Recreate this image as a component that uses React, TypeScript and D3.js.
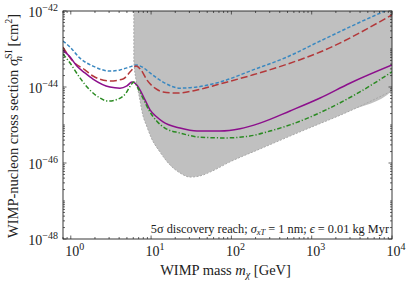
import React, { useRef, useEffect } from "react";
import * as d3 from "d3";

type Pt = [number, number];

// [mass GeV, log10 sigma cm^2]
const blueLine: Pt[] = [
  [0.8, -42.79], [0.98, -42.95], [1.3, -43.24], [1.89, -43.45], [3.07, -43.58],
  [4.1, -43.55], [5.46, -43.47], [6.5, -43.42], [7.7, -43.47], [9.7, -43.63],
  [14.1, -43.87], [22.9, -44.03], [37.3, -44.0], [72, -43.87], [186, -43.55],
  [494, -43.21], [1274, -42.79], [8170, -42.0], [10000, -41.92],
];
const redLine: Pt[] = [
  [0.8, -42.95], [1.06, -43.32], [1.5, -43.55], [1.89, -43.71], [3.07, -43.84],
  [4.47, -43.79], [5.6, -43.58], [6.5, -43.45], [7.5, -43.55], [8.9, -43.82],
  [11.2, -44.03], [14.1, -44.13], [21, -44.16], [37.3, -44.08], [72, -43.92],
  [186, -43.68], [494, -43.4], [1274, -43.08], [10000, -42.1],
];
const purpleLine: Pt[] = [
  [0.8, -43.03], [0.98, -43.21], [1.19, -43.45], [1.5, -43.63], [1.89, -43.79],
  [3.07, -44.0], [4.1, -44.03], [5.0, -43.97], [5.78, -43.87], [6.3, -43.9],
  [7.3, -44.08], [8.4, -44.34], [9.7, -44.6], [11.8, -44.79], [14.1, -44.92],
  [22.9, -45.08], [37.3, -45.16], [72, -45.16], [128, -45.1], [227, -44.95],
  [537, -44.63], [1274, -44.29], [2986, -43.9], [10000, -43.42],
];
const greenLine: Pt[] = [
  [0.8, -43.13], [0.98, -43.37], [1.3, -43.76], [1.73, -44.08], [2.31, -44.29],
  [2.9, -44.37], [3.87, -44.32], [4.87, -44.16], [5.6, -43.95], [6.1, -43.87],
  [6.87, -44.03], [7.9, -44.29], [9.7, -44.66], [11.8, -44.9], [14.9, -45.08],
  [22.9, -45.21], [40.6, -45.32], [83, -45.34], [170, -45.29], [302, -45.16],
  [715, -44.9], [1690, -44.55], [3980, -44.13], [10000, -43.6],
];
const regionEdge: Pt[] = [
  [6.1, -42.0], [6.1, -43.29], [6.5, -43.82], [7.07, -44.21], [7.9, -44.74],
  [8.9, -45.05], [9.97, -45.32], [12.9, -45.71], [17.2, -46.05], [22.9, -46.26],
  [30.5, -46.37], [40.6, -46.34], [54, -46.24], [96, -45.97], [227, -45.63],
  [715, -45.18], [2986, -44.63], [10000, -44.1],
];

const xMajor = [0, 1, 2, 3, 4];
const yMajor = [-42, -44, -46, -48];
const note = "5σ discovery reach; ";

const W = 407;
const H = 284;
const margin = { top: 11, right: 15, bottom: 45, left: 63 };

const App: React.FC = () => {
  const svgRef = useRef<SVGSVGElement>(null);

  useEffect(() => {
    const svg = d3.select(svgRef.current);
    svg.selectAll("*").remove();
    const width = W - margin.left - margin.right;
    const height = H - margin.top - margin.bottom;

    const x = d3.scaleLog().domain([0.8, 1e4]).range([0, width]);
    const y = d3.scaleLog().domain([1e-48, 1e-42]).range([height, 0]);

    const g = svg.append("g").attr("transform", `translate(${margin.left},${margin.top})`);

    g.append("defs").append("clipPath").attr("id", "plotclip")
      .append("rect").attr("width", width).attr("height", height);

    const line = d3.line<Pt>()
      .curve(d3.curveMonotoneX)
      .x(d => x(d[0]))
      .y(d => y(Math.pow(10, d[1])));

    // shaded region
    const poly: Pt[] = [...regionEdge, [10000, -42.0]];
    g.append("path")
      .datum(poly)
      .attr("clip-path", "url(#plotclip)")
      .attr("fill", "#c0c0c0")
      .attr("stroke", "none")
      .attr("d", line);
    g.append("path")
      .datum(regionEdge)
      .attr("clip-path", "url(#plotclip)")
      .attr("fill", "none")
      .attr("stroke", "#a8a8a8")
      .attr("stroke-width", 1)
      .attr("stroke-dasharray", "2,1.5")
      .attr("d", line);

    const series = [
      { data: blueLine, color: "#3a88c0", dash: "3.5,2" },
      { data: redLine, color: "#b3383a", dash: "7,3" },
      { data: purpleLine, color: "#8c0f8c", dash: null },
      { data: greenLine, color: "#2a8a22", dash: "4.5,2,1.2,2" },
    ];
    series.forEach(s => {
      g.append("path")
        .datum(s.data)
        .attr("clip-path", "url(#plotclip)")
        .attr("fill", "none")
        .attr("stroke", s.color)
        .attr("stroke-width", 1.5)
        .attr("stroke-dasharray", s.dash)
        .attr("d", line);
    });

    // frame
    g.append("rect").attr("width", width).attr("height", height)
      .attr("fill", "none").attr("stroke", "#222").attr("stroke-width", 0.9);

    // ticks, inward on all sides
    const tickG = g.append("g").attr("stroke", "#222").attr("stroke-width", 0.7);
    const xMinor: number[] = [];
    for (let e = -1; e < 4; e++) for (let k = 2; k <= 9; k++) {
      const v = k * Math.pow(10, e);
      if (v >= 0.8 && v <= 1e4) xMinor.push(v);
    }
    xMinor.forEach(v => {
      tickG.append("line").attr("x1", x(v)).attr("x2", x(v)).attr("y1", height).attr("y2", height - 2);
      tickG.append("line").attr("x1", x(v)).attr("x2", x(v)).attr("y1", 0).attr("y2", 2);
    });
    xMajor.forEach(e => {
      const v = Math.pow(10, e);
      tickG.append("line").attr("x1", x(v)).attr("x2", x(v)).attr("y1", height).attr("y2", height - 3.5);
      tickG.append("line").attr("x1", x(v)).attr("x2", x(v)).attr("y1", 0).attr("y2", 3.5);
    });
    const yMinor: number[] = [];
    for (let e = -48; e < -42; e++) for (let k = 1; k <= 9; k++) {
      if (k === 1 && e % 2 === 0) continue;
      yMinor.push(k * Math.pow(10, e));
    }
    yMinor.forEach(v => {
      tickG.append("line").attr("x1", 0).attr("x2", 2).attr("y1", y(v)).attr("y2", y(v));
      tickG.append("line").attr("x1", width).attr("x2", width - 2).attr("y1", y(v)).attr("y2", y(v));
    });
    yMajor.forEach(e => {
      const v = Math.pow(10, e);
      tickG.append("line").attr("x1", 0).attr("x2", 3.5).attr("y1", y(v)).attr("y2", y(v));
      tickG.append("line").attr("x1", width).attr("x2", width - 3.5).attr("y1", y(v)).attr("y2", y(v));
    });

    const font = "'Liberation Serif', 'DejaVu Serif', serif";

    xMajor.forEach(e => {
      const t = g.append("text")
        .attr("x", x(Math.pow(10, e)) + 4)
        .attr("y", height + 17)
        .attr("text-anchor", "middle")
        .attr("font-family", font)
        .attr("font-size", 14)
        .attr("fill", "#222");
      t.append("tspan").text("10");
      t.append("tspan").attr("dy", -6).attr("font-size", 10).text(String(e));
    });

    yMajor.forEach(e => {
      const t = g.append("text")
        .attr("x", -5)
        .attr("y", y(Math.pow(10, e)) + 6)
        .attr("text-anchor", "end")
        .attr("font-family", font)
        .attr("font-size", 14)
        .attr("fill", "#222");
      t.append("tspan").text("10");
      t.append("tspan").attr("dy", -6).attr("font-size", 10).text("\u2212" + Math.abs(e));
    });

    // x label
    const xl = svg.append("text")
      .attr("x", margin.left + width / 2 - 2)
      .attr("y", 275)
      .attr("text-anchor", "middle")
      .attr("font-family", font)
      .attr("font-size", 14.5)
      .attr("fill", "#222");
    xl.append("tspan").text("WIMP mass ");
    xl.append("tspan").attr("font-style", "italic").text("m");
    xl.append("tspan").attr("font-style", "italic").attr("font-size", 10).attr("dy", 3).text("χ");
    xl.append("tspan").attr("dy", -3).text(" [GeV]");

    // y label
    const yl = svg.append("text")
      .attr("transform", `translate(18,${margin.top + height / 2 + 1}) rotate(-90)`)
      .attr("text-anchor", "middle")
      .attr("font-family", font)
      .attr("font-size", 14.5)
      .attr("fill", "#222");
    yl.append("tspan").text("WIMP-nucleon cross section ");
    yl.append("tspan").attr("font-style", "italic").text("σ");
    yl.append("tspan").attr("font-size", 10).attr("dy", -6).text("SI");
    yl.append("tspan").attr("font-size", 10).attr("font-style", "italic").attr("dx", -11).attr("dy", 10).text("n");
    yl.append("tspan").attr("dx", 6).attr("dy", -4).text(" [cm");
    yl.append("tspan").attr("font-size", 10).attr("dy", -6).text("2");
    yl.append("tspan").attr("dy", 6).text("]");

    // annotation
    const an = g.append("text")
      .attr("x", width - 3)
      .attr("y", height - 6)
      .attr("text-anchor", "end")
      .attr("font-family", font)
      .attr("font-size", 12.3)
      .attr("fill", "#222");
    an.append("tspan").text(note);
    an.append("tspan").attr("font-style", "italic").text("σ");
    an.append("tspan").attr("font-style", "italic").attr("font-size", 8.5).attr("dy", 2).text("xT");
    an.append("tspan").attr("dy", -2).text(" = 1 nm;  ");
    an.append("tspan").attr("font-style", "italic").text("ϵ");
    an.append("tspan").text(" = 0.01 kg Myr");
  }, []);

  return <svg ref={svgRef} width={W} height={H} style={{ position: "absolute", left: 0, top: 0 }}></svg>;
};

export default App;
